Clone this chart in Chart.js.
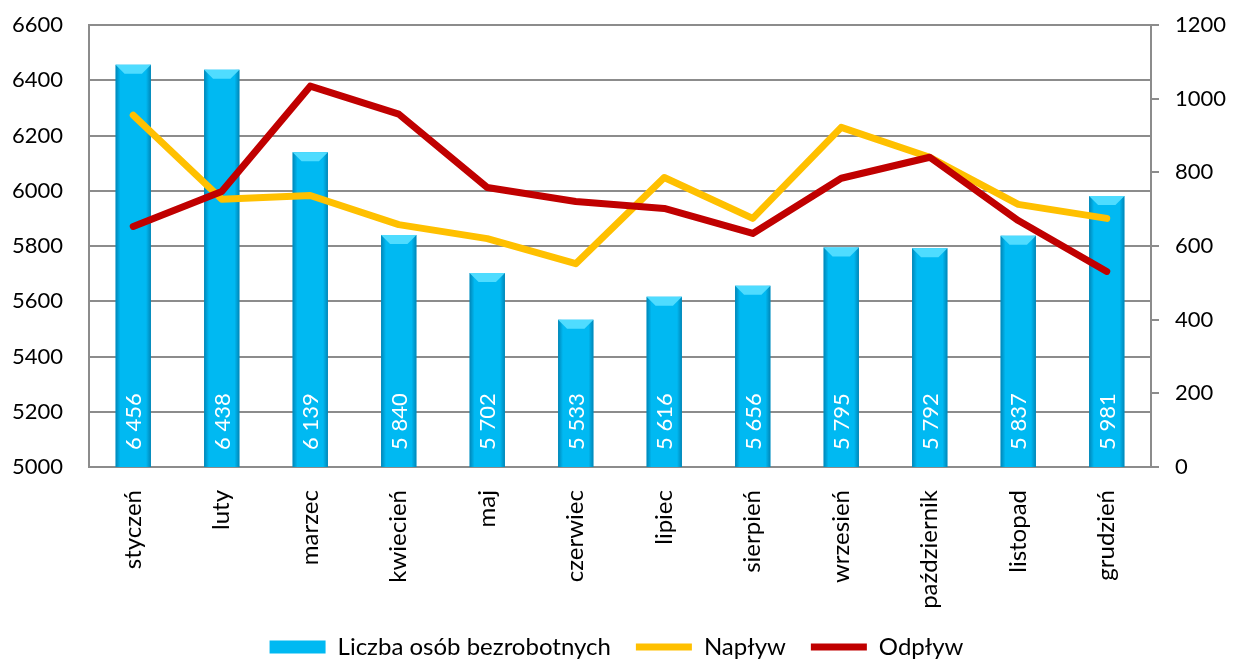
<!DOCTYPE html>
<html lang="pl">
<head>
<meta charset="UTF-8">
<title>Bezrobotni</title>
<style>
  body { margin: 0; background: #fff; }
  .wrap { width: 1233px; height: 659px; position: relative; }
</style>
</head>
<body>
<div class="wrap"><canvas id="chart"></canvas></div>
<script src="https://cdn.jsdelivr.net/npm/chart.js"></script>
<script>
  const months = ['styczeń', 'luty', 'marzec', 'kwiecień', 'maj', 'czerwiec', 'lipiec', 'sierpień', 'wrzesień', 'październik', 'listopad', 'grudzień'];
  const bezrobotni = [6456, 6438, 6139, 5840, 5702, 5533, 5616, 5656, 5795, 5792, 5837, 5981];
  const naplyw = [955, 727, 737, 658, 620, 552, 786, 675, 922, 841, 713, 675];
  const odplyw = [653, 748, 1034, 958, 759, 721, 702, 634, 784, 841, 669, 531];

  const FONT = 'Lato';
  const fmt = v => String(v).replace(/\B(?=(\d{3})+(?!\d))/g, ' ');

  // shading, top bevel and white value labels on the bars
  const barDecor = {
    id: 'barDecor',
    afterDatasetDraw(chart, args) {
      if (args.meta.type !== 'bar') return;
      const ctx = chart.ctx;
      const bottom = chart.chartArea.bottom;
      args.meta.data.forEach((bar, i) => {
        const { x, y, width } = bar.getProps(['x', 'y', 'width'], true);
        const l = x - width / 2, r = x + width / 2;
        ctx.save();
        const g = ctx.createLinearGradient(l, 0, r, 0);
        g.addColorStop(0, 'rgba(0,70,110,0.45)');
        g.addColorStop(0.14, 'rgba(0,70,110,0)');
        g.addColorStop(0.86, 'rgba(0,70,110,0)');
        g.addColorStop(1, 'rgba(0,70,110,0.45)');
        ctx.fillStyle = g;
        ctx.fillRect(l, y, width, bottom - y);
        const b = 9;
        ctx.beginPath();
        ctx.moveTo(l, y); ctx.lineTo(r, y); ctx.lineTo(r - b, y + b); ctx.lineTo(l + b, y + b);
        ctx.closePath();
        ctx.fillStyle = '#4fdcff';
        ctx.fill();
        ctx.translate(x + 1, bottom - 17);
        ctx.rotate(-Math.PI / 2);
        ctx.fillStyle = '#fff';
        ctx.font = '22px ' + FONT;
        ctx.textAlign = 'left';
        ctx.textBaseline = 'middle';
        ctx.fillText(fmt(bezrobotni[i]), 0, 0);
        ctx.restore();
      });
    }
  };

  // keep the tick padding from pushing the plot area down
  const trimPad = s => { s.paddingTop = 13; s.paddingBottom = 13; };

  new Chart(document.getElementById('chart'), {
    type: 'bar',
    data: {
      labels: months,
      datasets: [{
        label: 'Liczba osób bezrobotnych',
        data: bezrobotni,
        backgroundColor: '#00b9f2',
        borderWidth: 0,
        categoryPercentage: 1,
        barPercentage: 0.4,
        pointStyle: 'rect',
        yAxisID: 'y',
        order: 2
      }, {
        type: 'line',
        label: 'Napływ',
        data: naplyw,
        borderColor: '#ffc000',
        backgroundColor: '#ffc000',
        borderWidth: 7,
        borderCapStyle: 'round',
        borderJoinStyle: 'round',
        pointRadius: 0,
        pointStyle: 'line',
        tension: 0,
        yAxisID: 'y1',
        order: 1
      }, {
        type: 'line',
        label: 'Odpływ',
        data: odplyw,
        borderColor: '#c00000',
        backgroundColor: '#c00000',
        borderWidth: 7,
        borderCapStyle: 'round',
        borderJoinStyle: 'round',
        pointRadius: 0,
        pointStyle: 'line',
        tension: 0,
        yAxisID: 'y1',
        order: 0
      }]
    },
    options: {
      responsive: true,
      maintainAspectRatio: false,
      animation: false,
      layout: { padding: { top: 25, bottom: -10 } },
      plugins: {
        tooltip: { enabled: false },
        legend: {
          position: 'bottom',
          labels: {
            color: '#000',
            font: { family: FONT, size: 24 },
            usePointStyle: true,
            pointStyleWidth: 56,
            boxHeight: 13,
            padding: 25,
            sort: (a, b) => a.datasetIndex - b.datasetIndex
          }
        }
      },
      scales: {
        x: {
          grid: { display: false },
          border: { display: true, color: '#8c8c8c', width: 2 },
          ticks: {
            color: '#000',
            font: { family: FONT, size: 24 },
            minRotation: 90,
            maxRotation: 90,
            padding: 15
          },
          afterFit: s => { s.height = 143; }
        },
        y: {
          position: 'left',
          min: 5000,
          max: 6600,
          ticks: {
            stepSize: 200,
            color: '#000',
            font: { family: FONT, size: 22 },
            padding: 26,
            callback: v => String(v)
          },
          grid: { color: '#8c8c8c', lineWidth: 2, drawTicks: false },
          border: { display: true, color: '#8c8c8c', width: 2 },
          afterFit: s => { s.width = 89; trimPad(s); }
        },
        y1: {
          position: 'right',
          min: 0,
          max: 1200,
          ticks: {
            stepSize: 200,
            color: '#000',
            font: { family: FONT, size: 22 },
            padding: 16,
            callback: v => String(v)
          },
          grid: { drawOnChartArea: false, drawTicks: true, tickLength: 8, color: '#8c8c8c', lineWidth: 2 },
          border: { display: true, color: '#8c8c8c', width: 2 },
          afterFit: s => { s.width = 82; trimPad(s); }
        }
      }
    },
    plugins: [barDecor]
  });
</script>
</body>
</html>
